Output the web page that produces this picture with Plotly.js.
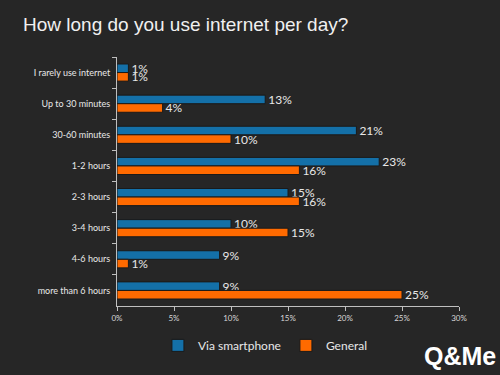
<!DOCTYPE html>
<html>
<head>
<meta charset="utf-8">
<script src="https://cdn.plot.ly/plotly-3.0.1.min.js"></script>
<style>html,body{margin:0;padding:0;background:#262626;}#chart{width:500px;height:375px;}</style>
</head>
<body>
<div id="chart"></div>
<script>
var categories = ["I rarely use internet", "Up to 30 minutes", "30-60 minutes", "1-2 hours", "2-3 hours", "3-4 hours", "4-6 hours", "more than 6 hours"];
var smartphone = [1, 13, 21, 23, 15, 10, 9, 9];
var general = [1, 4, 10, 16, 16, 15, 1, 25];
var xTickVals = [0, 5, 10, 15, 20, 25, 30];
var xTickText = ["0%", "5%", "10%", "15%", "20%", "25%", "30%"];

var labelFont = {family: "Lato, 'Open Sans', sans-serif", size: 12, color: "#e8e8e8"};
function pct(a){ return a.map(function(v){ return v + "%"; }); }

var traces = [
  {type: "bar", orientation: "h", name: "Via smartphone", y: categories, x: smartphone,
   text: pct(smartphone), textposition: "outside", textfont: labelFont, cliponaxis: false, constraintext: "none",
   marker: {color: "#1470A8", line: {color: "#1a1a1a", width: 1}}},
  {type: "bar", orientation: "h", name: "General", y: categories, x: general,
   text: pct(general), textposition: "outside", textfont: labelFont, cliponaxis: false, constraintext: "none",
   marker: {color: "#FF6A00", line: {color: "#1a1a1a", width: 1}}}
];

var layout = {
  width: 500, height: 375,
  paper_bgcolor: "#262626", plot_bgcolor: "#262626",
  margin: {l: 117, r: 41, t: 57, b: 69},
  barmode: "group", bargap: 0.45, bargroupgap: 0,
  title: {text: "How long do you use internet per day?", x: 0.046, xanchor: "left", y: 0.935, yanchor: "middle",
          font: {family: "'Liberation Sans', Arial, sans-serif", size: 19, color: "#f0f0f0"}},
  xaxis: {range: [0, 30], tickvals: xTickVals, ticktext: xTickText, showgrid: false, zeroline: false,
          showline: true, linecolor: "#bfbfbf", linewidth: 1, ticks: "outside", ticklen: 4, tickcolor: "#bfbfbf",
          tickfont: {family: "Lato, sans-serif", size: 8, color: "#d8d8d8"}, fixedrange: true},
  yaxis: {autorange: "reversed", showgrid: false, zeroline: false, showline: true, linecolor: "#bfbfbf", linewidth: 1,
          ticks: "outside", tickson: "boundaries", ticklen: 4, tickcolor: "#bfbfbf",
          tickfont: {family: "Lato, sans-serif", size: 9, color: "#e8e8e8"}, ticklabelstandoff: 4},
  legend: {orientation: "h", x: 0.434, xanchor: "center", y: -0.1, yanchor: "top",
           font: {family: "Lato, sans-serif", size: 12, color: "#e8e8e8"}, bgcolor: "rgba(0,0,0,0)",
           itemwidth: 30, traceorder: "normal", tracegroupgap: 0},
  showlegend: true,
  annotations: [{text: "<b>Q&amp;Me</b>", xref: "paper", yref: "paper", x: 1.114, y: -0.265, xanchor: "right", yanchor: "bottom",
                 showarrow: false, font: {family: "'Liberation Sans', Arial, sans-serif", size: 25, color: "#ffffff"}}]
};

Plotly.newPlot("chart", traces, layout, {displayModeBar: false, staticPlot: true});
</script>
</body>
</html>
